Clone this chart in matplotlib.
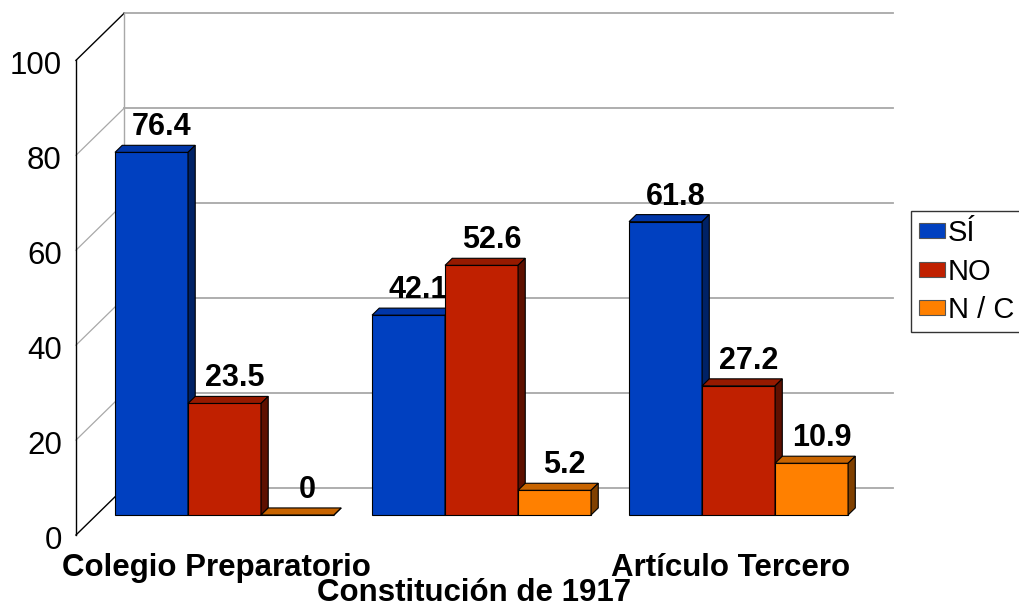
import matplotlib
matplotlib.use("Agg")
import matplotlib.pyplot as plt
from matplotlib.patches import Polygon, Patch

plt.rcParams["font.family"] = ["Liberation Sans", "DejaVu Sans"]

# data
categories = ["Colegio Preparatorio", "Constitución de 1917", "Artículo Tercero"]
series = ["SÍ", "NO", "N / C"]
si = [76.4, 42.1, 61.8]
no = [23.5, 52.6, 27.2]
nc = [0, 5.2, 10.9]
values = [si, no, nc]
yticks = [0, 20, 40, 60, 80, 100]

front_colors = ["#0040C0", "#C02000", "#FF8000"]
top_colors = ["#0036A8", "#961A00", "#C86400"]
side_colors = ["#002266", "#5E1000", "#804000"]

# pseudo 3d geometry (data units)
DX, DY = 0.187, 9.9          # full depth of the floor
front_off = -0.426           # front edge relative to bar plane
back_off = 0.574             # back wall relative to bar plane
bar_d = 0.15                 # bar depth
w = 0.284                    # bar width
wall_left = -0.578
wall_right = 2.414

fig = plt.figure(figsize=(10.19, 6.15), dpi=100)
ax = fig.add_axes([0, 0, 1, 1])
ax.set_xlim(-0.8735, 3.091)
ax.set_ylim(-21.07, 108.5)
ax.axis("off")

grid_c = "#A8A8A8"
xb = wall_left + DX
for v in yticks:
    yb = v + back_off * DY
    yf = v + front_off * DY
    ax.plot([xb, wall_right + DX], [yb, yb], color=grid_c, lw=1.3, zorder=1)
    edge = v in (yticks[0], yticks[-1])
    ax.plot([wall_left, xb], [yf, yb], color="black" if edge else grid_c,
            lw=1.0 if edge else 0.9, zorder=1)
    ax.text(wall_left - 0.055, yf - 2.85, str(v), ha="right", va="baseline",
            fontsize=22.5)
ax.plot([xb, xb], [back_off * DY, 100 + back_off * DY], color=grid_c, lw=1.0, zorder=1)
ax.plot([wall_left, wall_left], [front_off * DY, 100 + front_off * DY],
        color="black", lw=1.0, zorder=1)

ddx, ddy = bar_d * DX, bar_d * DY
for k, vals in enumerate(values):
    z = 3 + 2 * k
    for i, h in enumerate(vals):
        x0 = i + (k - 1.5) * w
        ax.bar(x0 + w / 2, h, w, color=front_colors[k], edgecolor="black",
               lw=0.8, zorder=z)
        top = [(x0, h), (x0 + w, h), (x0 + w + ddx, h + ddy), (x0 + ddx, h + ddy)]
        side = [(x0 + w, 0), (x0 + w + ddx, ddy), (x0 + w + ddx, h + ddy), (x0 + w, h)]
        ax.add_patch(Polygon(top, closed=True, fc=top_colors[k], ec="black",
                             lw=0.8, zorder=z))
        ax.add_patch(Polygon(side, closed=True, fc=side_colors[k], ec="black",
                             lw=0.8, zorder=z))
        ax.text(x0 + w / 2 + 0.039, h + ddy + 2.1, f"{h:g}", ha="center",
                va="baseline", fontsize=22, fontweight="bold", zorder=z + 1)

for i, cat in enumerate(categories):
    y = -12.85 if i % 2 == 0 else -18.12
    ax.text(i - 0.03, y, cat, ha="center", va="baseline", fontsize=22.5,
            fontweight="bold")

handles = [Patch(facecolor=c, edgecolor="#555555", lw=0.8) for c in front_colors]
leg = fig.legend(handles, series, loc="upper left",
                 bbox_to_anchor=(911 / 1019, 1 - 211 / 615), borderaxespad=0,
                 fontsize=21, frameon=True, fancybox=False, edgecolor="black",
                 handlelength=0.89, handleheight=0.41, handletextpad=0.1,
                 borderpad=0.28, labelspacing=0.36)
leg.get_frame().set_linewidth(1.0)

fig.savefig("out.png", dpi=100)
